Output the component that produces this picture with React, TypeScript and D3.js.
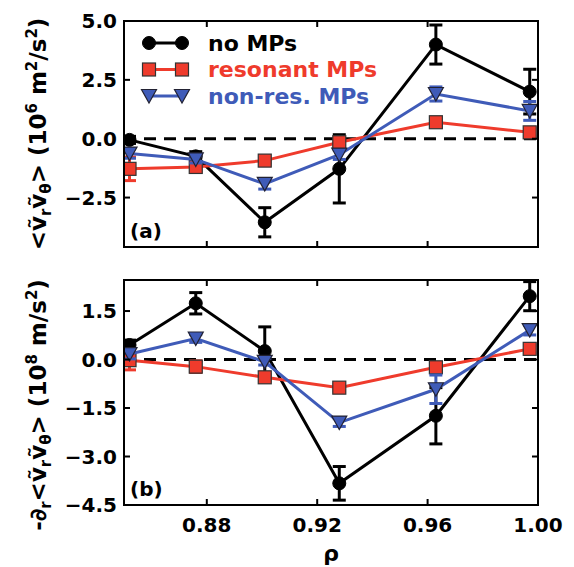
import React from 'react';
import * as d3 from 'd3';

// radial positions
const rho = [0.852, 0.876, 0.901, 0.928, 0.963, 0.997];

// panel (a): Reynolds stress
const noMPsA = [-0.05, -0.75, -3.55, -1.28, 4.0, 2.0];
const noMPsAErr = [0.15, 0.2, 0.62, 1.45, 0.83, 0.95];
const resA = [-1.28, -1.2, -0.93, -0.15, 0.7, 0.27];
const resAErr = [0.5, 0.15, 0.1, 0.15, 0.15, 0.15];
const nonA = [-0.63, -0.88, -1.92, -0.68, 1.9, 1.18];
const nonAErr = [0.2, 0.15, 0.22, 0.2, 0.3, 0.4];

// panel (b): Reynolds force
const noMPsB = [0.45, 1.74, 0.26, -3.83, -1.74, 1.96];
const noMPsBErr = [0.15, 0.33, 0.75, 0.52, 0.87, 0.45];
const resB = [-0.02, -0.22, -0.55, -0.87, -0.24, 0.33];
const resBErr = [0.3, 0.18, 0.1, 0.1, 0.1, 0.1];
const nonB = [0.17, 0.65, -0.07, -1.95, -0.92, 0.91];
const nonBErr = [0.15, 0.12, 0.1, 0.12, 0.44, 0.15];

const xTicks = [0.88, 0.92, 0.96, 1.0];
const yTicksA = [-2.5, 0, 2.5, 5.0];
const yTicksB = [-4.5, -3.0, -1.5, 0, 1.5];

const labels = ['no MPs', 'resonant MPs', 'non-res. MPs'];
const colors = ['#000000', '#ef3b2c', '#3f5bb8'];
const markers = ['circle', 'square', 'triangle'];

const font = '"DejaVu Sans", sans-serif';
const left = 124, right = 538;
const x = d3.scaleLinear().domain([0.85, 1.0]).range([left, right]);

const Marker = ({ kind, cx, cy, color }) => {
  if (kind === 'circle') return <circle cx={cx} cy={cy} r={6.5} fill={color} stroke="#000" strokeWidth={1} />;
  if (kind === 'square') return <rect x={cx - 6.5} y={cy - 6.5} width={13} height={13} fill={color} stroke="#333" strokeWidth={1.2} />;
  return <path d={`M${cx - 7.5},${cy - 6.5}L${cx + 7.5},${cy - 6.5}L${cx},${cy + 7}Z`} fill={color} stroke="#223" strokeWidth={1.2} />;
};

const Panel = ({ top, bottom, domain, ticks, series, tag, clipId, showX }) => {
  const y = d3.scaleLinear().domain(domain).range([bottom, top]);
  const line = d3.line<number>().x((d, i) => x(rho[i])).y((d) => y(d));
  return (
    <g>
      <defs>
        <clipPath id={clipId}>
          <rect x={left} y={top} width={right - left} height={bottom - top} />
        </clipPath>
      </defs>
      <g clipPath={`url(#${clipId})`}>
        <line x1={left} x2={right} y1={y(0)} y2={y(0)} stroke="#000" strokeWidth={3} strokeDasharray="12,8" />
        {series.map((s, k) => (
          <g key={k}>
            <path d={line(s.values) || ''} fill="none" stroke={colors[k]} strokeWidth={3} />
            {s.values.map((v, i) => (
              <g key={i} stroke={colors[k]} strokeWidth={3}>
                <line x1={x(rho[i])} x2={x(rho[i])} y1={y(v - s.err[i])} y2={y(v + s.err[i])} />
                <line x1={x(rho[i]) - 6.5} x2={x(rho[i]) + 6.5} y1={y(v - s.err[i])} y2={y(v - s.err[i])} />
                <line x1={x(rho[i]) - 6.5} x2={x(rho[i]) + 6.5} y1={y(v + s.err[i])} y2={y(v + s.err[i])} />
              </g>
            ))}
            {s.values.map((v, i) => (
              <Marker key={'m' + i} kind={markers[k]} cx={x(rho[i])} cy={y(v)} color={colors[k]} />
            ))}
          </g>
        ))}
      </g>
      {xTicks.map((t) => (
        <g key={t} stroke="#000" strokeWidth={2}>
          <line x1={x(t)} x2={x(t)} y1={bottom} y2={bottom - 6} />
          <line x1={x(t)} x2={x(t)} y1={top} y2={top + 6} />
        </g>
      ))}
      {ticks.map((t) => (
        <g key={t}>
          <line x1={left} x2={left + 6} y1={y(t)} y2={y(t)} stroke="#000" strokeWidth={2} />
          <line x1={right} x2={right - 6} y1={y(t)} y2={y(t)} stroke="#000" strokeWidth={2} />
          <text x={left - 7} y={y(t)} dy="0.36em" textAnchor="end" fontFamily={font} fontWeight="bold" fontSize={20}>
            {(t < 0 ? '\u2212' : '') + Math.abs(t).toFixed(1)}
          </text>
        </g>
      ))}
      {showX &&
        xTicks.map((t) => (
          <text key={'xl' + t} x={x(t)} y={bottom + 27} textAnchor="middle" fontFamily={font} fontWeight="bold" fontSize={20}>
            {t.toFixed(2)}
          </text>
        ))}
      <rect x={left} y={top} width={right - left} height={bottom - top} fill="none" stroke="#000" strokeWidth={2} />
      <text x={left + 6} y={bottom - 9} fontFamily={font} fontWeight="bold" fontSize={20}>{tag}</text>
    </g>
  );
};

export default function App() {
  const seriesA = [
    { values: noMPsA, err: noMPsAErr },
    { values: resA, err: resAErr },
    { values: nonA, err: nonAErr },
  ];
  const seriesB = [
    { values: noMPsB, err: noMPsBErr },
    { values: resB, err: resBErr },
    { values: nonB, err: nonBErr },
  ];
  const sub = { fontSize: 15 };
  return (
    <svg width={574} height={567} style={{ position: 'absolute', left: 0, top: 0, background: '#fff' }}>
      <rect width={574} height={567} fill="#fff" />
      <Panel top={21} bottom={247} domain={[-4.6, 5.0]} ticks={yTicksA} series={seriesA} tag="(a)" clipId="ca" showX={false} />
      <Panel top={280} bottom={505} domain={[-4.5, 2.46]} ticks={yTicksB} series={seriesB} tag="(b)" clipId="cb" showX={true} />
      {/* legend */}
      {labels.map((l, k) => {
        const ly = 43 + k * 26.5;
        return (
          <g key={l}>
            <line x1={149} x2={182} y1={ly} y2={ly} stroke={colors[k]} strokeWidth={3} />
            <Marker kind={markers[k]} cx={149} cy={ly} color={colors[k]} />
            <Marker kind={markers[k]} cx={182} cy={ly} color={colors[k]} />
            <text x={208} y={ly} dy="0.36em" fontFamily={font} fontWeight="bold" fontSize={22} fill={colors[k]}>{l}</text>
          </g>
        );
      })}
      {/* axis labels */}
      <text transform="translate(46,134) rotate(-90)" textAnchor="middle" fontFamily={font} fontWeight="bold" fontSize={23}>
        {'<ṽ'}<tspan dy={5} style={sub}>r</tspan><tspan dy={-5}>ṽ</tspan><tspan dy={5} style={sub}>θ</tspan><tspan dy={-5}>{'>  (10'}</tspan><tspan dy={-9} style={sub}>6</tspan><tspan dy={9}>{' m'}</tspan><tspan dy={-9} style={sub}>2</tspan><tspan dy={9}>/s</tspan><tspan dy={-9} style={sub}>2</tspan><tspan dy={9}>)</tspan>
      </text>
      <text transform="translate(46,405) rotate(-90)" textAnchor="middle" fontFamily={font} fontWeight="bold" fontSize={23}>
        {'-∂'}<tspan dy={5} style={sub}>r</tspan><tspan dy={-5}>{'<ṽ'}</tspan><tspan dy={5} style={sub}>r</tspan><tspan dy={-5}>ṽ</tspan><tspan dy={5} style={sub}>θ</tspan><tspan dy={-5}>{'>  (10'}</tspan><tspan dy={-9} style={sub}>8</tspan><tspan dy={9}>{' m/s'}</tspan><tspan dy={-9} style={sub}>2</tspan><tspan dy={9}>)</tspan>
      </text>
      <text x={331} y={561} textAnchor="middle" fontFamily={font} fontWeight="bold" fontSize={22}>ρ</text>
    </svg>
  );
}
